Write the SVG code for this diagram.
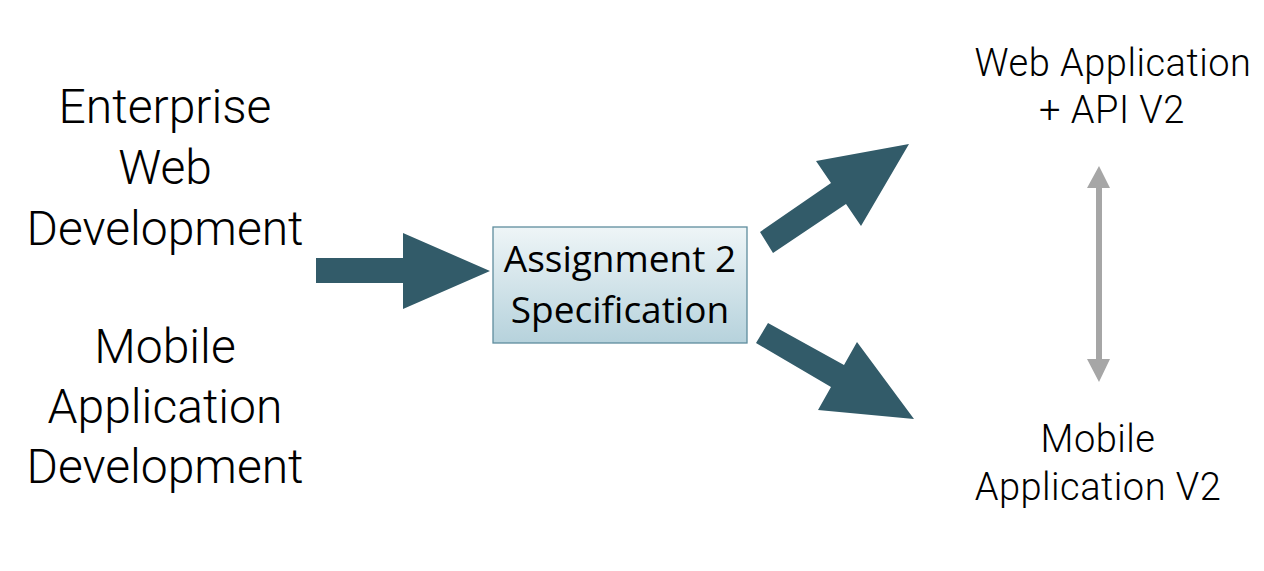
<svg xmlns="http://www.w3.org/2000/svg" width="1264" height="571" viewBox="0 0 1264 571">
<defs>
<linearGradient id="boxFill" x1="0" y1="0" x2="0" y2="1">
<stop offset="0" stop-color="#eef5f7"/>
<stop offset="1" stop-color="#b6d2dc"/>
</linearGradient>
</defs>
<style>
.big{font-family:Roboto,"Liberation Sans",sans-serif;font-weight:300;font-size:48px;fill:#000;text-anchor:middle}
.mid{font-family:Roboto,"Liberation Sans",sans-serif;font-weight:300;font-size:38px;letter-spacing:0.5px;fill:#000;text-anchor:middle}
.box{font-family:"Open Sans","Liberation Sans",sans-serif;font-size:37px;fill:#000;text-anchor:middle}
.arrow{fill:#325b69}
.grey{fill:#a6a6a6}
</style>
<rect width="1264" height="571" fill="#ffffff"/>
<g id="enterprise">
<text class="big" x="165" y="123">Enterprise</text>
<text class="big" x="165" y="184">Web</text>
<text class="big" x="165" y="245">Development</text>
</g>
<g id="mobile-dev">
<text class="big" x="165" y="363">Mobile</text>
<text class="big" x="165" y="423">Application</text>
<text class="big" x="165" y="483">Development</text>
</g>
<g id="spec">
<rect x="493" y="227" width="254" height="116" fill="url(#boxFill)" stroke="#5f8d9d" stroke-width="1.3"/>
<text class="box" x="620" y="272">Assignment 2</text>
<text class="box" x="620" y="323">Specification</text>
</g>
<g id="web-app">
<text class="mid" x="1113" y="76">Web Application</text>
<text class="mid" x="1112" y="123">+ API V2</text>
</g>
<g id="mobile-app">
<text class="mid" x="1098" y="452">Mobile</text>
<text class="mid" x="1098" y="500">Application V2</text>
</g>
<g id="connectors">
<polygon class="arrow" points="316,258 403,258 403,233 490,271 403,309 403,283 316,283"/>
<polygon class="arrow" points="760,232 831,183 816,161 909,144 861,226 846,204 773,253"/>
<polygon class="arrow" points="768,323 844,365 857,342 914,419 818,410 831,387 756,343"/>
<polygon class="grey" points="1099,166 1110,188 1102,188 1102,359 1110,359 1099,382 1087,359 1096,359 1096,188 1087,188"/>
</g>
</svg>
